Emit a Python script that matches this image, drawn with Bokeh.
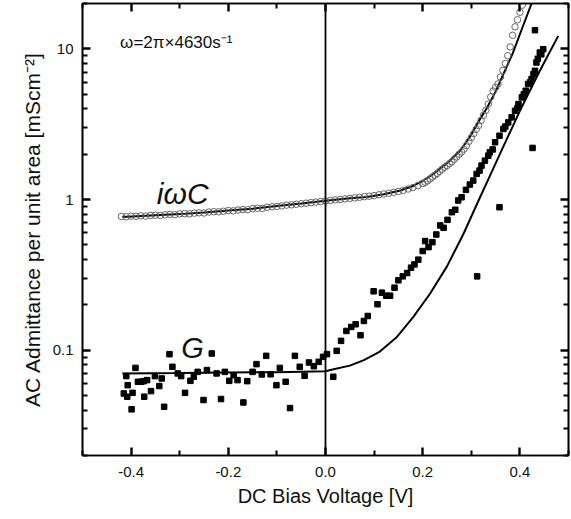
from bokeh.plotting import figure
from bokeh.models import (FixedTicker, LinearAxis, LogAxis, Span, Label,
                          PrintfTickFormatter, CustomJSTickFormatter)
from bokeh.embed import file_html
from bokeh.resources import INLINE

FONT = "Liberation Sans"

# ---------------- data ----------------
x_ticks = [-0.4, -0.2, 0.0, 0.2, 0.4]
x_minor = [-0.5, -0.3, -0.1, 0.1, 0.3, 0.5]
y_ticks = [0.1, 1, 10]
y_minor = [0.02, 0.03, 0.04, 0.05, 0.06, 0.07, 0.08, 0.09,
           0.2, 0.3, 0.4, 0.5, 0.6, 0.7, 0.8, 0.9,
           2, 3, 4, 5, 6, 7, 8, 9, 20]

# iwC measured (open circles)
c_v = [-0.42, -0.41, -0.40, -0.39, -0.38, -0.37, -0.36, -0.35, -0.34, -0.33,
       -0.32, -0.31, -0.30, -0.29, -0.28, -0.27, -0.26, -0.25, -0.24, -0.23,
       -0.22, -0.21, -0.20, -0.19, -0.18, -0.17, -0.16, -0.15, -0.14, -0.13,
       -0.12, -0.11, -0.10, -0.09, -0.08, -0.07, -0.06, -0.05, -0.04, -0.03,
       -0.02, -0.01, 0.00, 0.01, 0.02, 0.03, 0.04, 0.05, 0.06, 0.07,
       0.08, 0.09, 0.10, 0.11, 0.12, 0.13, 0.14, 0.15, 0.16, 0.17,
       0.18, 0.19, 0.20, 0.205, 0.21, 0.215, 0.22, 0.225, 0.23, 0.235,
       0.24, 0.245, 0.25, 0.255, 0.26, 0.265, 0.27, 0.275, 0.28, 0.285,
       0.29, 0.295, 0.30, 0.305, 0.31, 0.315, 0.32, 0.325, 0.33, 0.335,
       0.34, 0.345, 0.35, 0.355, 0.36, 0.365, 0.37, 0.375, 0.38, 0.385,
       0.39, 0.395, 0.40, 0.405, 0.41]
c_y = [0.772, 0.768, 0.776, 0.774, 0.779, 0.776, 0.784, 0.787, 0.784, 0.792,
       0.797, 0.794, 0.803, 0.806, 0.804, 0.812, 0.816, 0.814, 0.826, 0.830,
       0.829, 0.836, 0.845, 0.841, 0.852, 0.858, 0.856, 0.870, 0.875, 0.873,
       0.888, 0.895, 0.900, 0.907, 0.918, 0.922, 0.930, 0.938, 0.946, 0.953,
       0.961, 0.970, 0.978, 0.985, 0.995, 1.000, 1.010, 1.018, 1.025, 1.035,
       1.045, 1.052, 1.062, 1.075, 1.088, 1.100, 1.115, 1.130, 1.150, 1.175,
       1.200, 1.235, 1.275, 1.30, 1.33, 1.37, 1.41, 1.45, 1.49, 1.54,
       1.59, 1.64, 1.68, 1.73, 1.78, 1.85, 1.92, 2.00, 2.07, 2.16,
       2.28, 2.43, 2.58, 2.74, 2.92, 3.10, 3.35, 3.62, 3.92, 4.30,
       4.80, 5.25, 5.55, 5.85, 6.50, 7.20, 8.00, 9.00, 10.3, 12.3,
       14.0, 15.6, 17.5, 19.5, 21.5]

# G measured (filled squares)
g_v = [-0.410, -0.407, -0.415, -0.408, -0.397, -0.399, -0.391, -0.386, -0.379, -0.374,
       -0.367, -0.373, -0.359, -0.351, -0.342, -0.337, -0.332, -0.321, -0.315, -0.304,
       -0.297, -0.289, -0.278, -0.271, -0.263, -0.251, -0.244, -0.234, -0.224, -0.215,
       -0.207, -0.198, -0.189, -0.181, -0.169, -0.161, -0.150, -0.142, -0.131, -0.122,
       -0.113, -0.101, -0.094, -0.082, -0.073, -0.063, -0.053, -0.043, -0.034, -0.024,
       -0.014, -0.005, 0.003, 0.016, 0.023, 0.032, 0.043, 0.053, 0.062, 0.072,
       0.079, 0.087, 0.099, 0.107, 0.116, 0.125, 0.133, 0.142, 0.150, 0.159,
       0.168, 0.176, 0.183, 0.191, 0.200, 0.205, 0.212, 0.220, 0.228, 0.236,
       0.243, 0.251, 0.260, 0.267, 0.273, 0.280, 0.289, 0.297, 0.304, 0.311,
       0.317, 0.321, 0.328, 0.335, 0.338, 0.344, 0.349, 0.358, 0.366, 0.370,
       0.376, 0.383, 0.390, 0.395, 0.397, 0.404, 0.408, 0.412, 0.417, 0.421,
       0.424, 0.428, 0.431, 0.434, 0.437, 0.441, 0.444, 0.448,
       0.312, 0.358, 0.426, 0.431]
g_y = [0.0673, 0.0586, 0.0516, 0.0491, 0.0521, 0.0405, 0.0763, 0.0617, 0.0617, 0.0623,
       0.0633, 0.0491, 0.0535, 0.0673, 0.0578, 0.0649, 0.0421, 0.0941, 0.0776, 0.0701,
       0.0673, 0.0521, 0.0626, 0.0666, 0.0718, 0.0467, 0.0738, 0.0951, 0.0701, 0.0474,
       0.0718, 0.0626, 0.0683, 0.0633, 0.0450, 0.0623, 0.0718, 0.0808, 0.0690, 0.0917,
       0.0692, 0.0586, 0.0763, 0.0617, 0.0413, 0.0917, 0.0776, 0.0676, 0.0829, 0.0783,
       0.0837, 0.0903, 0.0941, 0.0666, 0.0990, 0.1153, 0.1342, 0.1426, 0.1486, 0.1257,
       0.1563, 0.1687, 0.246, 0.2018, 0.241, 0.230, 0.230, 0.260, 0.291, 0.309,
       0.325, 0.353, 0.371, 0.399, 0.455, 0.530, 0.483, 0.521, 0.586, 0.673,
       0.649, 0.733, 0.824, 0.855, 0.985, 1.035, 1.159, 1.257, 1.336, 1.479,
       1.556, 1.679, 1.812, 1.955, 2.056, 2.15, 2.40, 2.65, 2.94, 3.05,
       3.25, 3.51, 3.88, 4.05, 4.30, 4.76, 5.00, 5.27, 5.84, 6.00,
       6.30, 6.80, 7.15, 8.12, 8.60, 9.46, 9.20, 9.95,
       0.309, 0.889, 2.20, 13.3]

# fit curves (solid lines)
fc_v = [-0.418, -0.35, -0.30, -0.25, -0.20, -0.15, -0.10, -0.05, 0.00, 0.05,
        0.085, 0.12, 0.154, 0.18, 0.20, 0.222, 0.25, 0.277, 0.297, 0.321,
        0.332, 0.35, 0.366, 0.385, 0.40, 0.424, 0.435]
fc_y = [0.765, 0.785, 0.800, 0.820, 0.845, 0.870, 0.905, 0.940, 0.980, 1.020,
        1.040, 1.085, 1.147, 1.23, 1.33, 1.48, 1.74, 2.11, 2.60, 3.55,
        4.05, 5.2, 6.8, 9.3, 12.5, 20.0, 24.0]
fg_v = [-0.418, -0.30, -0.20, -0.10, 0.00, 0.01, 0.05, 0.079, 0.11, 0.147,
        0.18, 0.215, 0.25, 0.284, 0.318, 0.335, 0.359, 0.40, 0.441, 0.479]
fg_y = [0.0700, 0.0705, 0.0710, 0.0715, 0.0725, 0.0738, 0.0790, 0.0860, 0.0970, 0.1225,
        0.165, 0.237, 0.360, 0.593, 1.035, 1.36, 2.01, 3.88, 7.15, 12.2]

title_x = "DC Bias Voltage [V]"
title_y = "AC Admittance per unit area [mScm\u207b\u00b2]"
note = "\u03c9=2\u03c0\u00d74630s\u207b\u00b9"

# ---------------- figure ----------------
p = figure(frame_width=486, frame_height=452,
           x_range=(-0.5, 0.5), y_range=(0.02, 20.0), y_axis_type="log",
           output_backend="svg", toolbar_location=None,
           min_border_left=82, min_border_right=3, min_border_top=3, min_border_bottom=0)
p.grid.visible = False
p.outline_line_color = "black"
p.outline_line_width = 1.6

xt = FixedTicker(ticks=x_ticks, minor_ticks=x_minor)
yt = FixedTicker(ticks=y_ticks, minor_ticks=y_minor)
yfmt = CustomJSTickFormatter(code="return tick >= 1 ? tick.toFixed(0) : tick.toFixed(1);")
blank = CustomJSTickFormatter(code="return '';")


def style(ax):
    ax.axis_line_color = "black"
    ax.axis_line_width = 1.6
    ax.major_tick_line_color = "black"
    ax.minor_tick_line_color = "black"
    ax.major_tick_line_width = 2.4
    ax.minor_tick_line_width = 2
    ax.major_tick_in = 8
    ax.major_tick_out = 0
    ax.minor_tick_in = 5
    ax.minor_tick_out = 0
    ax.major_label_text_font = FONT
    ax.major_label_text_font_size = "15px"
    ax.major_label_text_color = "#111111"
    ax.axis_label_text_font = FONT
    ax.axis_label_text_font_style = "normal"
    ax.axis_label_text_color = "#111111"


xa = p.xaxis[0]
xa.ticker = xt
xa.formatter = PrintfTickFormatter(format="%.1f")
style(xa)
xa.major_label_standoff = 11
xa.axis_label = title_x
xa.axis_label_text_font_size = "20px"
xa.axis_label_standoff = 5

ya = p.yaxis[0]
ya.ticker = yt
ya.formatter = yfmt
style(ya)
ya.major_label_standoff = 9
ya.axis_label = title_y
ya.axis_label_text_font_size = "21px"
ya.axis_label_standoff = 6

top = LinearAxis(ticker=xt, formatter=blank)
style(top)
top.major_label_standoff = 0
p.add_layout(top, "above")

right = LogAxis(ticker=yt, formatter=blank)
style(right)
right.major_label_standoff = 0
p.add_layout(right, "right")

p.add_layout(Span(location=0, dimension="height", line_color="black", line_width=1.8))

p.line(fc_v, fc_y, line_color="black", line_width=2)
p.line(fg_v, fg_y, line_color="black", line_width=2)
p.scatter(c_v, c_y, marker="circle", size=6.5, fill_color=None,
          line_color="#666666", line_width=1)
p.scatter(g_v, g_y, marker="square", size=5.5, fill_color="black", line_color="black")

p.add_layout(Label(x=-0.4226, y=11.0, text=note, text_font=FONT, text_font_size="17px",
                   text_color="#111111", text_baseline="alphabetic"))
p.add_layout(Label(x=-0.347, y=1.09, text="i\u03c9C", text_font=FONT, text_font_size="30px",
                   text_font_style="italic", text_color="#111111", text_baseline="alphabetic"))
p.add_layout(Label(x=-0.297, y=0.1035, text="G", text_font=FONT, text_font_size="29px",
                   text_font_style="italic", text_color="#111111", text_baseline="alphabetic"))

open("out.html", "w").write(file_html(p, INLINE))
